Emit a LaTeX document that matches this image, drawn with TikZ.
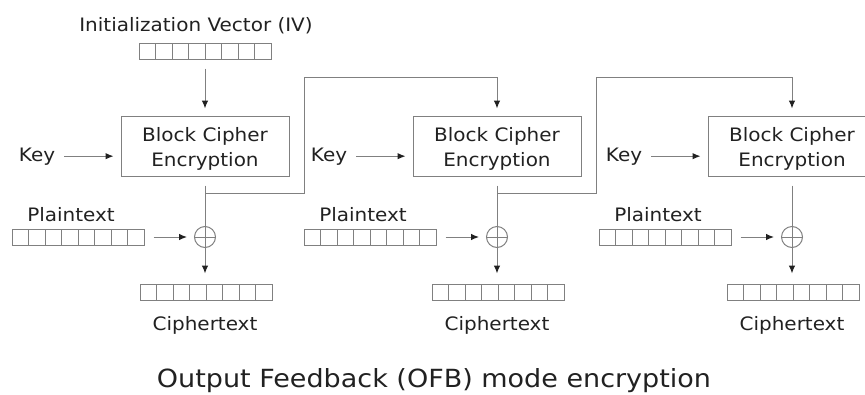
\documentclass[tikz,border=0pt]{standalone}
\usepackage{fontspec}
\setmainfont{DejaVu Sans}[FakeStretch=1.08]
\usepackage{tikz}
\usetikzlibrary{arrows.meta}
\usetikzlibrary{calc}
\definecolor{linegray}{gray}{0.5}
\definecolor{textgray}{gray}{0.13}

\tikzset{
  every node/.style={text=textgray, font=\fontsize{18.5}{25}\selectfont},
  lbl/.style={inner sep=0pt, anchor=base},
  enc/.style={draw=linegray, line width=1pt, minimum width=168pt, minimum height=60pt,
    align=center, inner sep=0pt},
  reg/.style={draw=linegray, line width=1pt, minimum width=132pt, minimum height=16pt,
    inner sep=0pt,
    path picture={\foreach \i in {1,...,7}
      \draw[linegray, line width=1pt]
        ($(path picture bounding box.north west)!\i/8!(path picture bounding box.north east)$) --
        ($(path picture bounding box.south west)!\i/8!(path picture bounding box.south east)$);}},
  xor/.style={circle, draw=linegray, line width=1pt, minimum size=21pt, inner sep=0pt,
    path picture={\draw[linegray, line width=1pt]
      (path picture bounding box.north) -- (path picture bounding box.south)
      (path picture bounding box.west) -- (path picture bounding box.east);}},
  wire/.style={draw=linegray, line width=1pt, shorten <=9pt},
  arrow/.style={wire, -{Latex[length=8pt,width=6.5pt,color=textgray]}, shorten >=7pt},
}

\begin{document}
\begin{tikzpicture}[x=1pt,y=1pt]
  \useasboundingbox (0,0) rectangle (865,-394);
  % IV on top of the first stage
  \node[lbl] (ivlab) at (196,-31) {Initialization Vector (IV)};
  \node[reg] (iv) at (205,-51) {};
  % the three stages
  \foreach \n/\x in {1/205,2/497,3/792} {
    \node[enc] (enc\n) at (\x,-146) {\rule{0pt}{20pt}Block Cipher\\Encryption};
    \node[lbl] (key\n) at (\x-168,-161) {Key};
    \node[xor] (xor\n) at (\x,-237) {};
    \node[lbl] (ptlab\n) at (\x-134,-221) {Plaintext};
    \node[reg] (pt\n) at (\x-127,-237) {};
    \node[reg] (ct\n) at (\x+1,-292) {};
    \node[lbl] (ctlab\n) at (\x,-330) {Ciphertext};
    \coordinate (fb\n) at (\x,-193);
    \coordinate (top\n) at (\x+99,-77);
    \draw[arrow] (key\n) -- (key\n -| enc\n.west);
    \draw[wire] (enc\n) -- (xor\n);
    \draw[arrow] (pt\n) -- (xor\n);
    \draw[arrow, shorten <=0pt, shorten >=10pt] (xor\n) -- (xor\n |- ct\n.north);
  }
  \draw[arrow] (iv) -- (enc1);
  % output fed into the next stage
  \draw[arrow, shorten <=0pt] (fb1) -| (top1) -| (enc2);
  \draw[arrow, shorten <=0pt] (fb2) -| (top2) -| (enc3);
  \node[lbl, font=\fontsize{25}{30}\selectfont] (title) at (434,-387)
    {Output Feedback (OFB) mode encryption};
\end{tikzpicture}
\end{document}
